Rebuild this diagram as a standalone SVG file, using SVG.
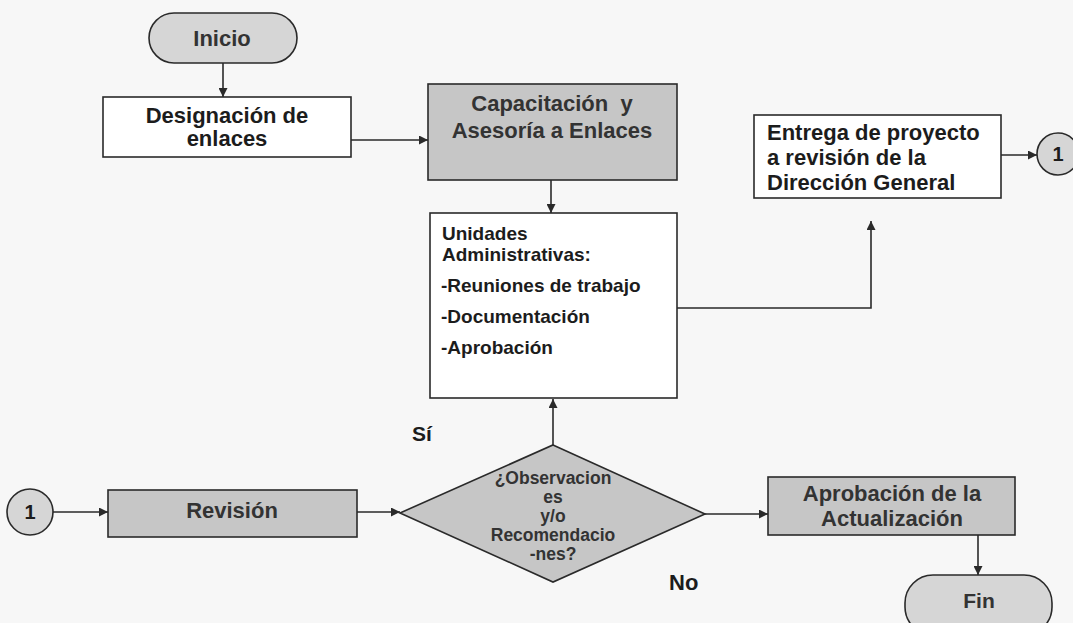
<svg xmlns="http://www.w3.org/2000/svg" width="1073" height="623" viewBox="0 0 1073 623">
<style>
.bg{fill:#f7f7f7}
.box{fill:#ffffff;stroke:#2a2a2a;stroke-width:1.6}
.gbox{fill:#c6c6c6;stroke:#2a2a2a;stroke-width:1.6}
.term{fill:#d6d6d6;stroke:#2a2a2a;stroke-width:1.6}
.t{font-family:"Liberation Sans",Arial,sans-serif;font-weight:bold;fill:#1c1c1c}
.c{text-anchor:middle}
.g{fill:#333333}
.line{fill:none;stroke:#2a2a2a;stroke-width:1.6}
</style>
<defs>
<marker id="arr" viewBox="0 0 10 10" refX="10" refY="5" markerWidth="9" markerHeight="9" markerUnits="userSpaceOnUse" orient="auto">
<path d="M0,0 L10,5 L0,10 z" fill="#2a2a2a"/>
</marker>
</defs>
<rect class="bg" x="0" y="0" width="1073" height="623"/>
<g id="connectors">
<line class="line" x1="223" y1="63" x2="223" y2="97" marker-end="url(#arr)"/>
<line class="line" x1="351" y1="140" x2="428" y2="140" marker-end="url(#arr)"/>
<line class="line" x1="551" y1="180" x2="551" y2="213" marker-end="url(#arr)"/>
<polyline class="line" points="677,308 871,308 871,221" marker-end="url(#arr)"/>
<line class="line" x1="1001" y1="155" x2="1037" y2="155" marker-end="url(#arr)"/>
<line class="line" x1="53" y1="512" x2="108" y2="512" marker-end="url(#arr)"/>
<line class="line" x1="357" y1="512" x2="400" y2="512" marker-end="url(#arr)"/>
<line class="line" x1="553" y1="445" x2="553" y2="399" marker-end="url(#arr)"/>
<line class="line" x1="705" y1="514" x2="768" y2="514" marker-end="url(#arr)"/>
<line class="line" x1="978" y1="535" x2="978" y2="575" marker-end="url(#arr)"/>
</g>
<g id="inicio">
<rect class="term" x="149" y="13" width="148" height="50" rx="25"/>
<text class="t c g" x="222" y="46" font-size="22">Inicio</text>
</g>
<g id="designacion">
<rect class="box" x="103" y="97" width="248" height="60"/>
<text class="t c" x="227" y="123" font-size="22">Designación de</text>
<text class="t c" x="227" y="146" font-size="22">enlaces</text>
</g>
<g id="capacitacion">
<rect class="gbox" x="428" y="84" width="249" height="96"/>
<text class="t c g" x="552" y="111" font-size="22" style="white-space:pre">Capacitación  y</text>
<text class="t c g" x="552" y="138" font-size="22">Asesoría a Enlaces</text>
</g>
<g id="unidades">
<rect class="box" x="430" y="213" width="247" height="185"/>
<text class="t" x="442" y="240" font-size="19">Unidades</text>
<text class="t" x="442" y="261" font-size="19">Administrativas:</text>
<text class="t" x="441" y="292" font-size="19">-Reuniones de trabajo</text>
<text class="t" x="441" y="323" font-size="19">-Documentación</text>
<text class="t" x="441" y="354" font-size="19">-Aprobación</text>
</g>
<g id="entrega">
<rect class="box" x="754" y="115" width="247" height="83"/>
<text class="t" x="767" y="140" font-size="22">Entrega de proyecto</text>
<text class="t" x="767" y="165" font-size="22">a revisión de la</text>
<text class="t" x="767" y="190" font-size="22">Dirección General</text>
</g>
<g id="conector1-der">
<circle class="term" cx="1058" cy="154" r="21"/>
<text class="t c" x="1058" y="161" font-size="20">1</text>
</g>
<g id="conector1-izq">
<circle class="term" cx="30" cy="512" r="23"/>
<text class="t c" x="30" y="519" font-size="20">1</text>
</g>
<g id="revision">
<rect class="gbox" x="108" y="490" width="249" height="47"/>
<text class="t c g" x="232" y="518" font-size="22">Revisión</text>
</g>
<g id="decision">
<polygon class="gbox" points="553,445 705,514 553,582 400,513"/>
<text class="t c g" x="553" y="484" font-size="17.5">¿Observacion</text>
<text class="t c g" x="553" y="503" font-size="17.5">es</text>
<text class="t c g" x="553" y="522" font-size="17.5">y/o</text>
<text class="t c g" x="553" y="541" font-size="17.5">Recomendacio</text>
<text class="t c g" x="553" y="560" font-size="17.5">-nes?</text>
</g>
<g id="label-si">
<text class="t" x="412" y="441" font-size="21">Sí</text>
</g>
<g id="label-no">
<text class="t" x="669" y="590" font-size="22">No</text>
</g>
<g id="aprobacion">
<rect class="gbox" x="768" y="477" width="247" height="58"/>
<text class="t c g" x="892" y="501" font-size="22">Aprobación de la</text>
<text class="t c g" x="892" y="526" font-size="22">Actualización</text>
</g>
<g id="fin">
<rect class="term" x="905" y="575" width="147" height="60" rx="28"/>
<text class="t c g" x="979" y="608" font-size="21">Fin</text>
</g>
</svg>
